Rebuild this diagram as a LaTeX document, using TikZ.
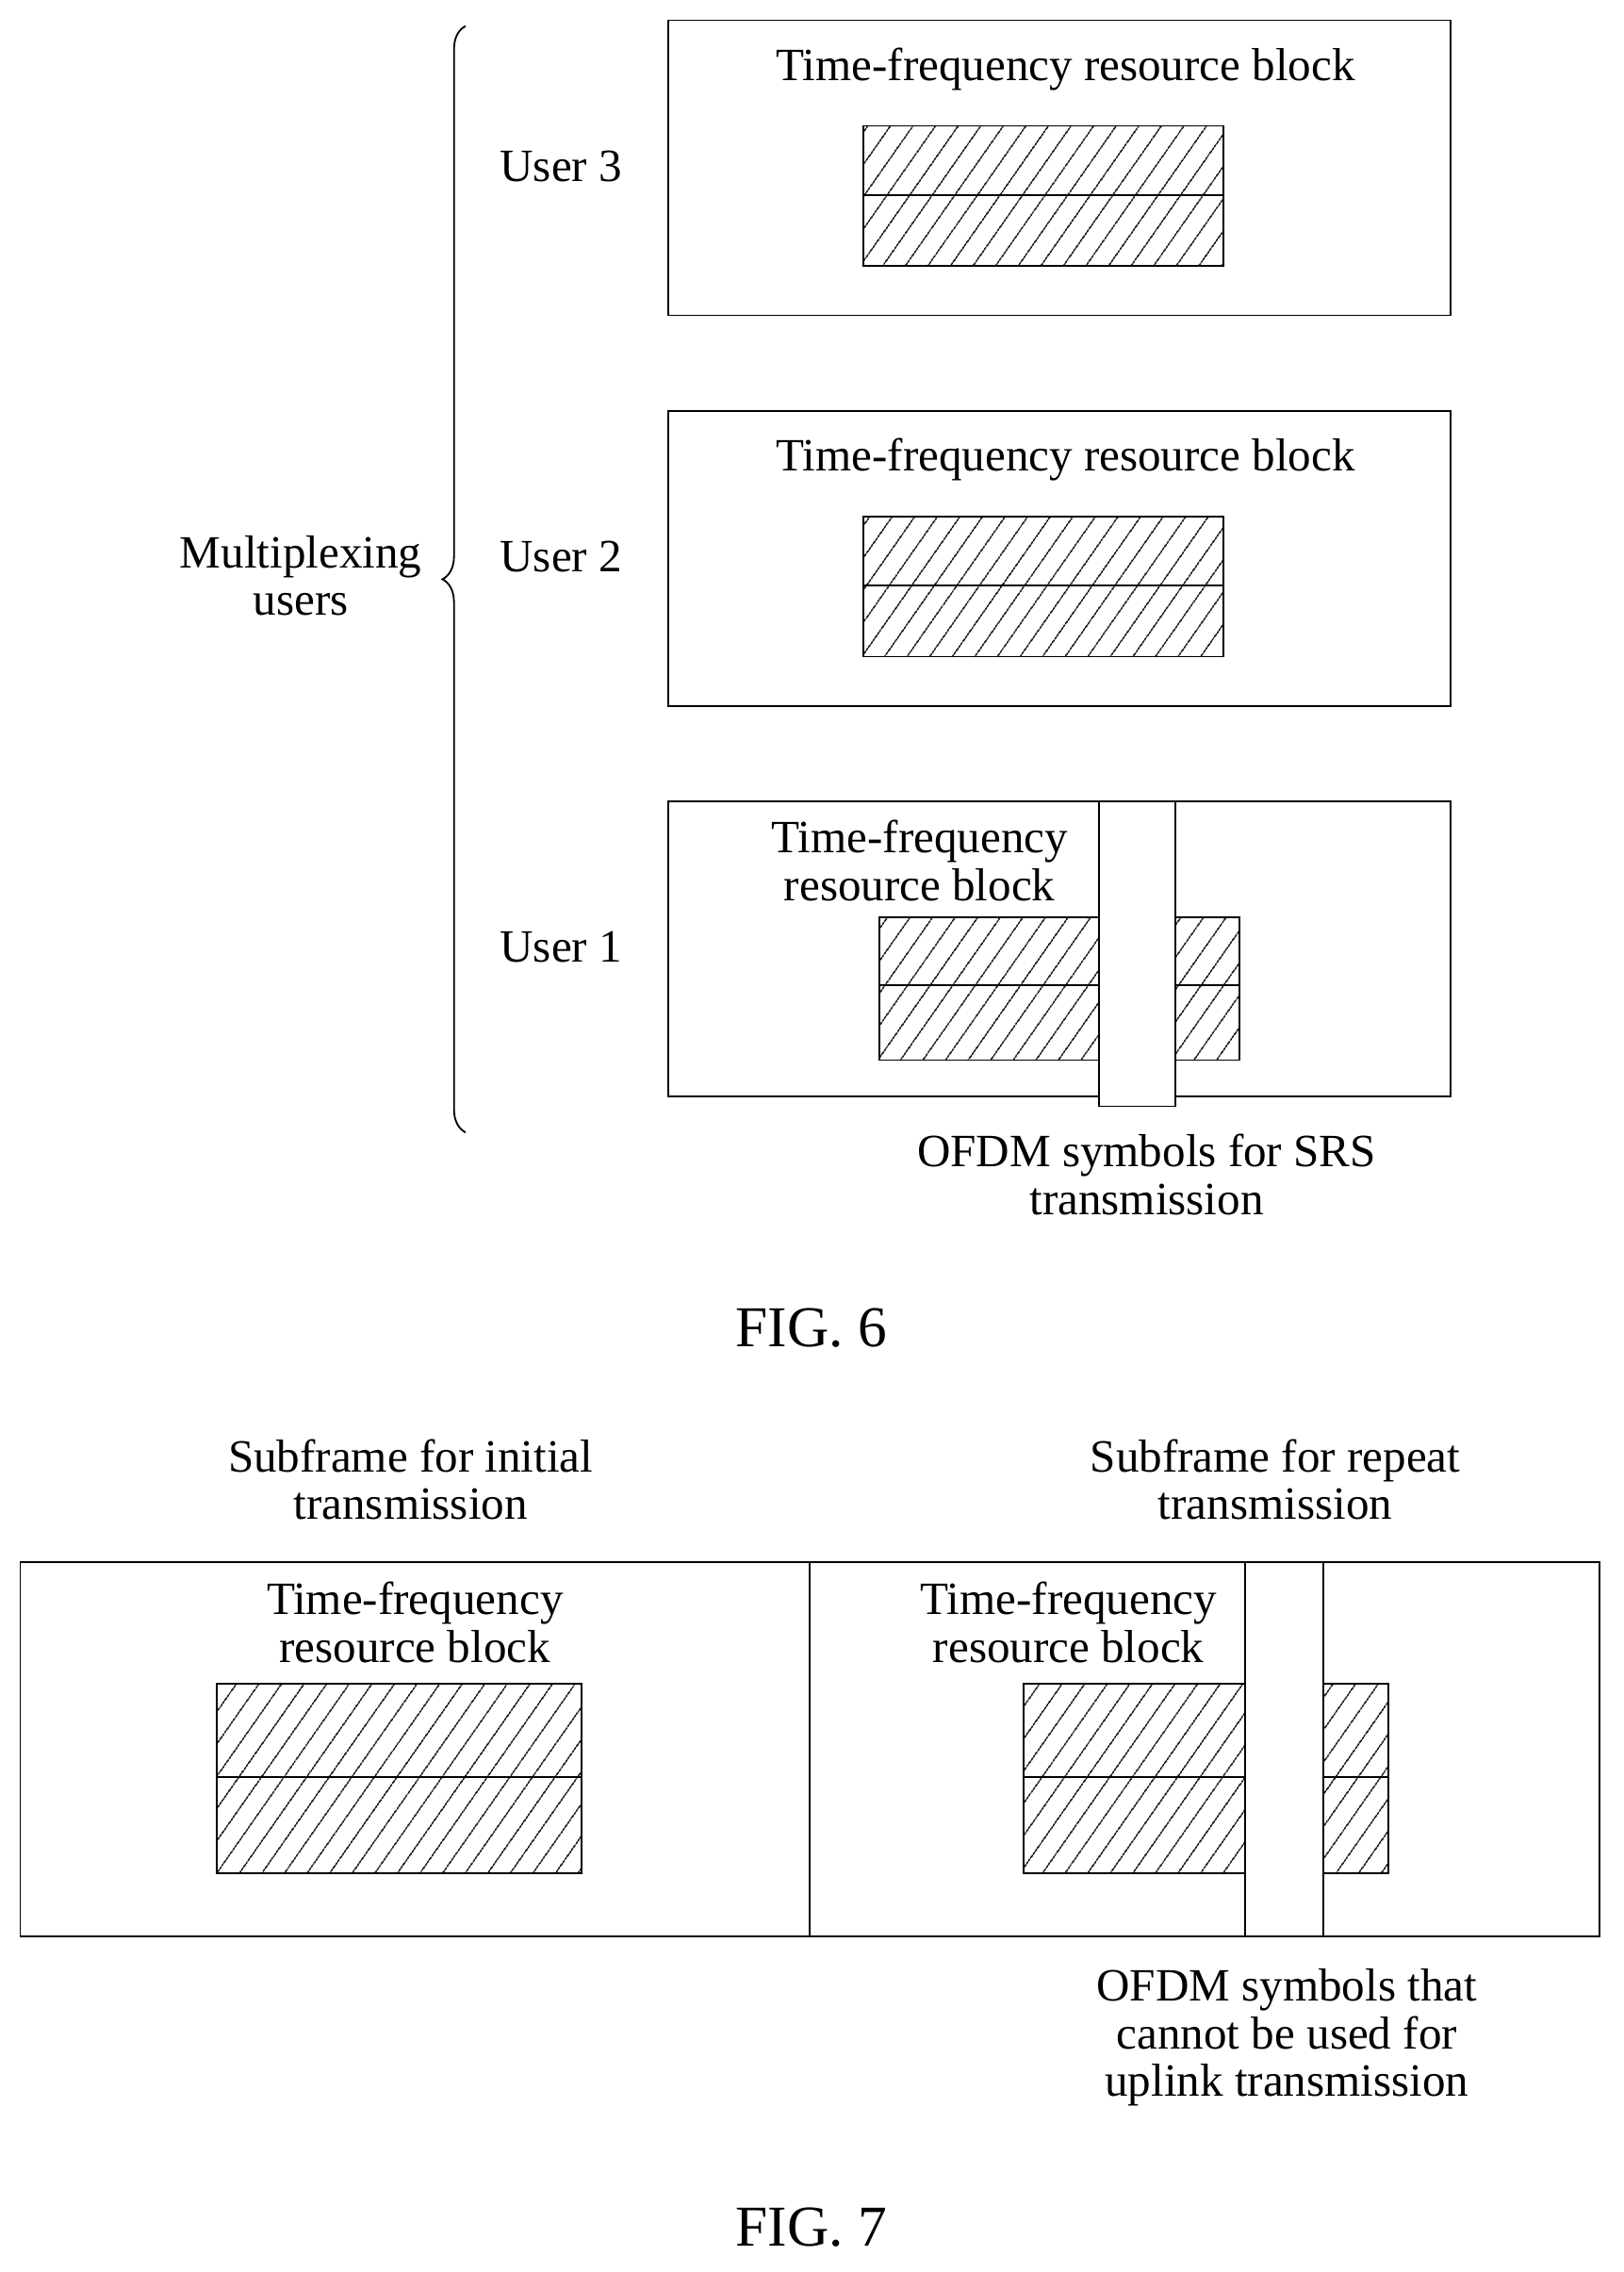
\documentclass[tikz,border=0pt]{standalone}
\usepackage{fontspec}
\setmainfont{Liberation Serif}
\usetikzlibrary{patterns.meta,decorations.pathreplacing}
\begin{document}
\begin{tikzpicture}[x=0.5pt,y=-0.5pt,
  box/.style={draw,line width=0.6pt},
  hatch/.style={draw,line width=0.6pt,pattern={Lines[angle=55,distance=6.5pt,line width=0.45pt]}},
  col/.style={draw,fill=white,line width=0.6pt},
  txt/.style={font=\fontsize{16}{16.5}\selectfont,align=center,inner sep=0pt},
  fig/.style={font=\fontsize{20}{22}\selectfont,inner sep=0pt}]
\useasboundingbox (0,0) rectangle (1123,1571);
% FIG 6
\draw[line width=0.6pt,decorate,decoration={brace,amplitude=8pt,mirror,aspect=0.5}] (322,18) -- (322,783);
\node[txt] (mu) at (208,398) {Multiplexing\\users};
\node[txt] (u3) at (388,115) {User 3};
\node[txt] (u2) at (388,385) {User 2};
\node[txt] (u1) at (388,655) {User 1};
\foreach \y/\n in {14/3,284/2}{
  \draw[box] (462,\y) rectangle (1003,\y+204);
  \node[txt] at (737,\y+34) {Time-frequency resource block};
  \draw[hatch] (597,\y+73) rectangle (846,\y+170);
  \draw[line width=0.6pt] (597,\y+121) -- (846,\y+121);
}
\draw[box] (462,554) rectangle (1003,758);
\node[txt] at (636,595) {Time-frequency\\resource block};
\draw[hatch] (608,634) rectangle (857,733);
\draw[line width=0.6pt] (608,681) -- (857,681);
\draw[col] (760,554) rectangle (813,765);
\node[txt] at (793,812) {OFDM symbols for SRS\\transmission};
\node[fig] at (561,918) {FIG. 6};
% FIG 7
\node[txt] at (284,1023) {Subframe for initial\\transmission};
\node[txt] at (882,1023) {Subframe for repeat\\transmission};
\draw[box] (14,1080) rectangle (1106,1339);
\draw[line width=0.6pt] (560,1080) -- (560,1339);
\node[txt] at (287,1122) {Time-frequency\\resource block};
\node[txt] at (739,1122) {Time-frequency\\resource block};
\draw[hatch] (150,1164) rectangle (402,1295);
\draw[line width=0.6pt] (150,1229) -- (402,1229);
\draw[hatch] (708,1164) rectangle (960,1295);
\draw[line width=0.6pt] (708,1229) -- (960,1229);
\draw[col] (861,1080) rectangle (915,1339);
\node[txt] at (890,1409) {OFDM symbols that\\cannot be used for\\uplink transmission};
\node[fig] at (561,1540) {FIG. 7};
\end{tikzpicture}
\end{document}
